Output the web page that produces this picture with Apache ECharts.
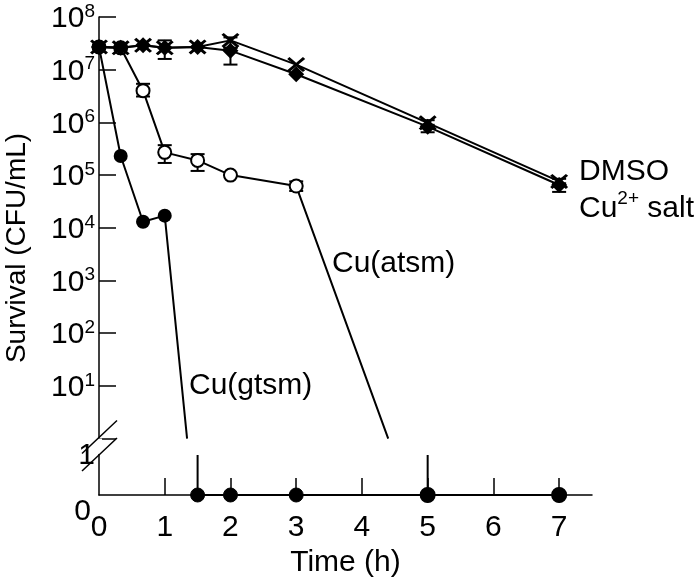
<!DOCTYPE html>
<html>
<head>
<meta charset="utf-8">
<script src="https://cdn.jsdelivr.net/npm/echarts@6/dist/echarts.min.js"></script>
<style>html,body{margin:0;padding:0;background:#fff}#c{width:700px;height:583px}</style>
</head>
<body>
<div id="c"></div>
<script>
// ---- data (time in h, survival in CFU/mL) ----
const timeH = [0, 0.33, 0.67, 1, 1.5, 2, 3, 5, 7];
const dmso = [2.7e7, 2.6e7, 2.9e7, 2.6e7, 2.7e7, 3.6e7, 1.25e7, 9.8e5, 7.6e4];
const cuSalt = [2.7e7, 2.6e7, 2.9e7, 2.6e7, 2.7e7, 2.3e7, 8.2e6, 8.3e5, 6.5e4];

const atsmTime = [0, 0.33, 0.67, 1, 1.5, 2, 3];
const atsmSurvival = [2.7e7, 2.6e7, 4.0e6, 2.7e5, 1.9e5, 1.0e5, 6.2e4];
const atsmDropTo1Time = 4.4;     // where the drawn drop line reaches 1 CFU/mL
const atsmZeroTimes = [5, 7];

const gtsmTime = [0, 0.33, 0.67, 1];
const gtsmSurvival = [2.7e7, 2.3e5, 1.3e4, 1.7e4];
const gtsmDropTo1Time = 1.34;
const gtsmZeroTimes = [1.5, 2, 3, 5, 7];

// error bars [time, low, high]
const dmsoErr = [[1, 1.6e7, 3.6e7], [2, 2.6e7, 4.1e7], [5, 9.0e5, 1.1e6], [7, 7.0e4, 8.5e4]];
const saltErr = [[2, 1.25e7, 2.6e7], [5, 6.5e5, 8.5e5], [7, 4.8e4, 6.5e4]];
const atsmErr = [[0.67, 3.1e6, 5.4e6], [1, 1.7e5, 3.7e5], [1.5, 1.2e5, 2.5e5], [3, 5.0e4, 7.6e4]];

const xTicks = [1, 2, 3, 4, 5, 6, 7];
const xLabels = [0, 1, 2, 3, 4, 5, 6, 7];
const yExponents = [0, 1, 2, 3, 4, 5, 6, 7, 8];

// ---- broken axis: log10 above 1, a separate "0" row below ----
const ZERO = -1.07;          // decades below 1 where the 0 row sits
const BREAK_TOP = 0.02;
const BREAK_BOTTOM = -0.31;
const tr = v => v === 0 ? ZERO : Math.log10(v);

const FONT = "'Liberation Sans', Arial, Helvetica, sans-serif";

const xSym = 'path://M0,1.5 L1.5,0 L6,4.5 L10.5,0 L12,1.5 L7.5,6 L12,10.5 L10.5,12 L6,7.5 L1.5,12 L0,10.5 L4.5,6 Z';

function dropSeries(times, vals, dropTime, zeroTimes) {
  const d = times.map((t, i) => [t, tr(vals[i])]);
  d.push({ value: [dropTime, tr(1)], symbol: 'none' });
  d.push([ (dropTime + zeroTimes[0]) / 2, '-' ]);
  d.push({ value: [zeroTimes[0], BREAK_BOTTOM], symbol: 'none' });
  zeroTimes.forEach(t => d.push({ value: [t, tr(0)], symbol: 'circle', symbolSize: 14, itemStyle: { color: '#000', borderColor: '#000' } }));
  return d;
}

function errSeries(arr) {
  return {
    type: 'custom', z: 3, clip: false,
    data: arr.map(e => [e[0], tr(e[1]), tr(e[2])]),
    renderItem(params, api) {
      const x = api.value(0);
      const lo = api.coord([x, api.value(1)]);
      const hi = api.coord([x, api.value(2)]);
      const w = 7;
      const st = { stroke: '#000', lineWidth: 2 };
      return { type: 'group', children: [
        { type: 'line', shape: { x1: lo[0], y1: lo[1], x2: hi[0], y2: hi[1] }, style: st },
        { type: 'line', shape: { x1: lo[0] - w, y1: lo[1], x2: lo[0] + w, y2: lo[1] }, style: st },
        { type: 'line', shape: { x1: hi[0] - w, y1: hi[1], x2: hi[0] + w, y2: hi[1] }, style: st }
      ]};
    }
  };
}

const chart = echarts.init(document.getElementById('c'), null, { renderer: 'canvas' });
chart.setOption({
  animation: false,
  backgroundColor: '#fff',
  textStyle: { fontFamily: FONT },
  grid: { left: 99, right: 108, top: 14, bottom: 77, containLabel: false },
  xAxis: {
    type: 'value', min: 0, max: 7.5,
    name: 'Time (h)', nameLocation: 'middle', nameGap: 53,
    nameTextStyle: { fontSize: 30, color: '#000', fontFamily: FONT },
    axisLine: { onZero: false, lineStyle: { color: '#000', width: 1.5 } },
    axisTick: { show: true, inside: true, length: 17, customValues: xTicks, lineStyle: { color: '#000', width: 1.5 } },
    axisLabel: { customValues: xLabels, fontSize: 30, color: '#000', margin: 18, fontFamily: FONT, showMinLabel: true },
    splitLine: { show: false }
  },
  yAxis: [{
    type: 'value', min: ZERO, max: 8,
    axisLine: { onZero: false, lineStyle: { color: '#000', width: 1.5 } },
    axisTick: { show: true, inside: true, length: 17, customValues: yExponents, lineStyle: { color: '#000', width: 1.5 } },
    axisLabel: {
      customValues: yExponents, margin: 4, color: '#000',
      showMinLabel: true, showMaxLabel: true, hideOverlap: false,
      formatter: v => {
        if (Math.abs(v) < 1e-6) return '{one|1}';
        return '{b|10}{s|' + Math.round(v) + '}';
      },
      rich: {
        b: { fontSize: 30, fontFamily: FONT, color: '#000', lineHeight: 30, padding: [4, 0, 0, 0] },
        s: { fontSize: 19, fontFamily: FONT, color: '#000', lineHeight: 19, verticalAlign: 'top' },
        one: { fontSize: 30, fontFamily: FONT, color: '#000', lineHeight: 30, padding: [34, 0, 0, 0] }
      }
    },
    splitLine: { show: false }
  }, {
    // carries only the "0" label of the zero row below the break
    type: 'value', min: ZERO, max: 8, position: 'left',
    axisLine: { show: false }, axisTick: { show: false }, splitLine: { show: false },
    axisLabel: {
      customValues: [ZERO], margin: 8, color: '#000', showMinLabel: true,
      formatter: () => '{z|0}',
      rich: { z: { fontSize: 30, fontFamily: FONT, color: '#000', lineHeight: 30, padding: [34, 0, 0, 0] } }
    }
  }],
  series: [
    {
      name: 'Cu(atsm)', type: 'line', z: 3, connectNulls: false,
      data: dropSeries(atsmTime, atsmSurvival, atsmDropTo1Time, atsmZeroTimes),
      symbol: 'circle', symbolSize: 13,
      lineStyle: { color: '#000', width: 2 },
      itemStyle: { color: '#fff', borderColor: '#000', borderWidth: 2 }
    },
    {
      name: 'Cu(gtsm)', type: 'line', z: 4, connectNulls: false,
      data: dropSeries(gtsmTime, gtsmSurvival, gtsmDropTo1Time, gtsmZeroTimes),
      symbol: 'circle', symbolSize: 14,
      lineStyle: { color: '#000', width: 2 }, itemStyle: { color: '#000' }
    },
    {
      name: 'DMSO', type: 'line', z: 5,
      data: timeH.map((t, i) => [t, tr(dmso[i])]),
      symbol: xSym, symbolSize: [18, 15],
      lineStyle: { color: '#000', width: 2 }, itemStyle: { color: '#000' }
    },
    {
      name: 'Cu2+ salt', type: 'line', z: 5,
      data: timeH.map((t, i) => [t, tr(cuSalt[i])]),
      symbol: 'diamond', symbolSize: 16,
      lineStyle: { color: '#000', width: 2 }, itemStyle: { color: '#000' }
    },
    errSeries(dmsoErr), errSeries(saltErr), errSeries(atsmErr),
    {
      // axis break marks on the y axis
      type: 'custom', z: 10, clip: false, silent: true,
      data: [[0, (BREAK_TOP + BREAK_BOTTOM) / 2]],
      renderItem(params, api) {
        const top = api.coord([0, BREAK_TOP]);
        const bot = api.coord([0, BREAK_BOTTOM]);
        const st = { stroke: '#000', lineWidth: 1.5 };
        return { type: 'group', children: [
          { type: 'rect', shape: { x: top[0] - 3, y: top[1] + 1, width: 6, height: bot[1] - top[1] - 2 }, style: { fill: '#fff' } },
          { type: 'line', shape: { x1: top[0] - 17, y1: top[1] + 16, x2: top[0] + 18, y2: top[1] - 17 }, style: st },
          { type: 'line', shape: { x1: bot[0] - 17, y1: bot[1] + 16, x2: bot[0] + 18, y2: bot[1] - 17 }, style: st }
        ]};
      }
    }
  ],
  graphic: [
    { type: 'text', x: 17, y: 248, rotation: Math.PI / 2,
      style: { text: 'Survival (CFU/mL)', font: '28px ' + FONT, fill: '#000', align: 'center', verticalAlign: 'middle' } },
    { type: 'text', x: 579, y: 172,
      style: { text: 'DMSO', font: '30px ' + FONT, fill: '#000', align: 'left', verticalAlign: 'middle' } },
    { type: 'text', x: 579, y: 204,
      style: { text: '{b|Cu}{s|2+}{b| salt}', fill: '#000', align: 'left', verticalAlign: 'middle',
        rich: { b: { fontSize: 30, fontFamily: FONT, lineHeight: 30, padding: [10, 0, 0, 0] },
                s: { fontSize: 19, fontFamily: FONT, lineHeight: 19, verticalAlign: 'top' } } } },
    { type: 'text', x: 332, y: 264,
      style: { text: 'Cu(atsm)', font: '30px ' + FONT, fill: '#000', align: 'left', verticalAlign: 'middle' } },
    { type: 'text', x: 189, y: 386,
      style: { text: 'Cu(gtsm)', font: '30px ' + FONT, fill: '#000', align: 'left', verticalAlign: 'middle' } }
  ]
});
</script>
</body>
</html>
